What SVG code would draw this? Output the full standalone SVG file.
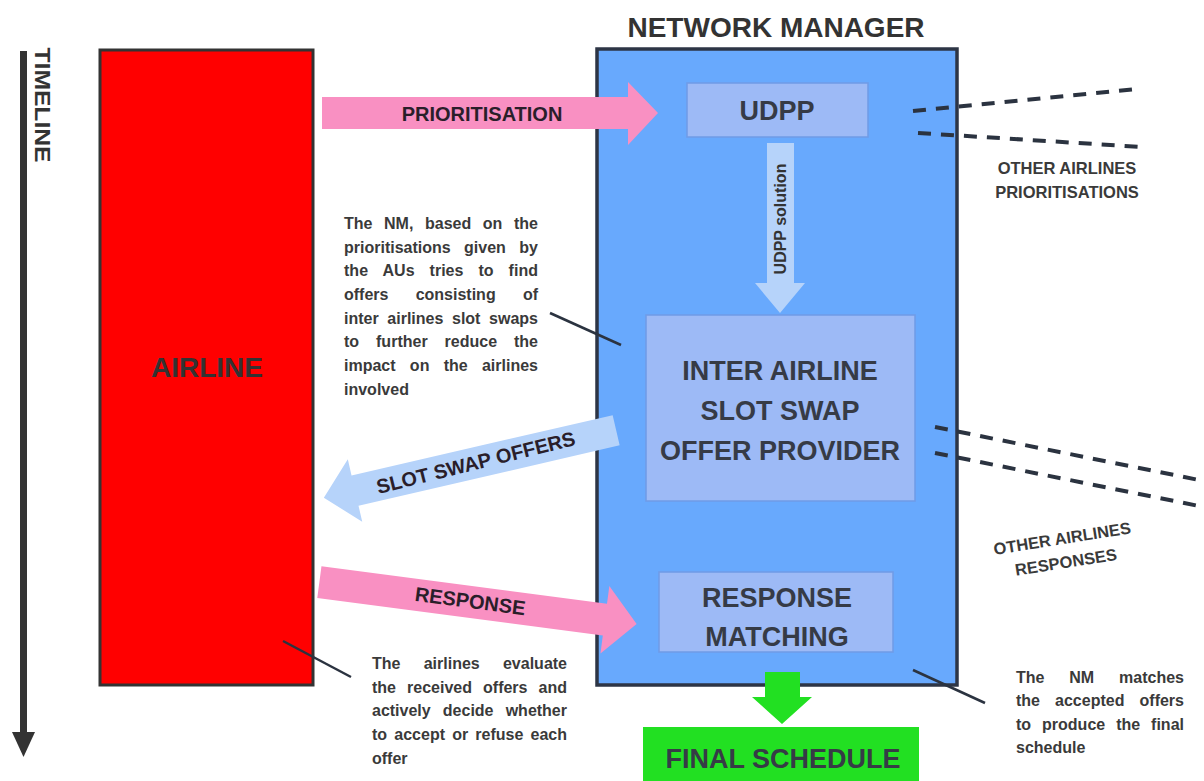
<svg xmlns="http://www.w3.org/2000/svg" width="1204" height="781" viewBox="0 0 1204 781">
  <defs>
    <style>
      text { font-family: "Liberation Sans", Arial, sans-serif; font-weight: bold; fill: #333333; }
      .big { font-size: 27px; text-anchor: middle; fill: #363b46; }
      .lbl { font-size: 20px; text-anchor: middle; fill: #2a1e2a; }
      .note { font-size: 16px; fill: #3a3a3a; }
      .other { font-size: 16.5px; text-anchor: middle; fill: #3a3a3a; }
      .inner { fill: #9dbaf6; stroke: #6f9be6; stroke-width: 1.5; }
      .dash { stroke: #2b3340; stroke-width: 4; stroke-dasharray: 13 10; fill: none; }
      .leader { stroke: #2b3340; stroke-width: 2.5; fill: none; }
      .pink { fill: #f990c2; }
      .lblue { fill: #b6d3fa; }
      .green { fill: #22e022; }
    </style>
  </defs>

  <rect x="0" y="0" width="1204" height="781" fill="#ffffff"/>

  <!-- Timeline -->
  <g id="timeline">
    <rect x="20" y="51" width="7" height="684" fill="#333333"/>
    <polygon points="12,732 35,732 23.5,757" fill="#333333"/>
    <text transform="translate(35,105) rotate(90)" font-size="22" text-anchor="middle" textLength="115" lengthAdjust="spacingAndGlyphs" fill="#333333">TIMELINE</text>
  </g>

  <!-- Airline -->
  <g id="airline">
    <rect x="100" y="50" width="213" height="635" fill="#ff0000" stroke="#333333" stroke-width="3"/>
    <text x="207" y="377" font-size="28" text-anchor="middle" fill="#5e1f1f">AIRLINE</text>
  </g>

  <!-- Network manager -->
  <g id="network-manager">
    <text x="776" y="37" font-size="28" text-anchor="middle" fill="#333333">NETWORK MANAGER</text>
    <rect x="597" y="49" width="360" height="636" fill="#68a9fd" stroke="#2d3545" stroke-width="3.5"/>
  </g>

  <g id="udpp">
    <rect class="inner" x="687" y="83" width="181" height="54"/>
    <text class="big" x="777" y="120" font-size="28">UDPP</text>
  </g>

  <g id="inter-airline">
    <rect class="inner" x="646" y="315" width="269" height="186"/>
    <text class="big" x="780" y="380">INTER AIRLINE</text>
    <text class="big" x="780" y="420">SLOT SWAP</text>
    <text class="big" x="780" y="460">OFFER PROVIDER</text>
  </g>

  <g id="response-matching">
    <rect class="inner" x="659" y="572" width="234" height="80"/>
    <text class="big" x="777" y="607">RESPONSE</text>
    <text class="big" x="777" y="646">MATCHING</text>
  </g>

  <g id="final-schedule">
    <rect class="green" x="643" y="727" width="276" height="60"/>
    <text class="big" x="783" y="768">FINAL SCHEDULE</text>
  </g>

  <!-- Connectors -->
  <g id="connectors">
    <!-- Prioritisation arrow -->
    <polygon class="pink" points="322,97 628,97 628,82 658,113 628,145 628,129 322,129"/>
    <text class="lbl" x="482" y="121" font-size="21">PRIORITISATION</text>

    <!-- UDPP solution arrow -->
    <polygon class="lblue" points="767,143 794,143 794,283 805,283 780,313 755,283 767,283"/>
    <text transform="translate(786,219) rotate(-90)" font-size="16" text-anchor="middle" fill="#333333">UDPP solution</text>

    <!-- Slot swap offers arrow -->
    <g transform="translate(470,464) rotate(-13)">
      <polygon class="lblue" points="150,-15.5 -118,-15.5 -118,-32 -150,0 -118,32 -118,15.5 150,15.5"/>
      <text class="lbl" x="6" y="7" transform="rotate(-1)">SLOT SWAP OFFERS</text>
    </g>

    <!-- Response arrow -->
    <g transform="translate(478,603) rotate(7.5)">
      <polygon class="pink" points="-160,-16 128,-16 128,-34 160,0 128,34 128,16 -160,16"/>
      <text class="lbl" x="-8" y="6">RESPONSE</text>
    </g>

    <!-- Final schedule arrow -->
    <polygon class="green" points="765,672 800,672 800,697 812,697 782,724 752,697 765,697"/>

    <!-- Dashed lines: other airlines prioritisations -->
    <line class="dash" x1="913" y1="111" x2="1138" y2="89"/>
    <line class="dash" x1="918" y1="133" x2="1142" y2="147"/>

    <!-- Dashed lines: other airlines responses -->
    <line class="dash" x1="935" y1="427" x2="1204" y2="481"/>
    <line class="dash" x1="935" y1="453" x2="1204" y2="507"/>

    <!-- Leaders -->
    <line class="leader" x1="550" y1="313" x2="621" y2="345"/>
    <line class="leader" x1="283" y1="641" x2="351" y2="677"/>
    <line class="leader" x1="913" y1="670" x2="985" y2="703"/>
  </g>

  <!-- Other airlines labels -->
  <g id="other-prioritisations">
    <text class="other" x="1067" y="174">OTHER AIRLINES</text>
    <text class="other" x="1067" y="198">PRIORITISATIONS</text>
  </g>
  <g id="other-responses" transform="translate(1064,550) rotate(-9)">
    <text class="other" x="0" y="-6">OTHER AIRLINES</text>
    <text class="other" x="0" y="18">RESPONSES</text>
  </g>

  <!-- Notes -->
  <g id="note-nm">
    <text class="note" x="344" y="229" word-spacing="7.2" textLength="194" lengthAdjust="spacing">The NM, based on the</text>
    <text class="note" x="344" y="253" word-spacing="9" textLength="194" lengthAdjust="spacing">prioritisations given by</text>
    <text class="note" x="344" y="276" word-spacing="10.5" textLength="194" lengthAdjust="spacing">the AUs tries to find</text>
    <text class="note" x="344" y="300" word-spacing="22.8" textLength="194" lengthAdjust="spacing">offers consisting of</text>
    <text class="note" x="344" y="324" word-spacing="4.2" textLength="194" lengthAdjust="spacing">inter airlines slot swaps</text>
    <text class="note" x="344" y="347" word-spacing="12.5" textLength="194" lengthAdjust="spacing">to further reduce the</text>
    <text class="note" x="344" y="371" word-spacing="9.8" textLength="194" lengthAdjust="spacing">impact on the airlines</text>
    <text class="note" x="344" y="395">involved</text>
  </g>

  <g id="note-airlines">
    <text class="note" x="372" y="669" word-spacing="18.8" textLength="195" lengthAdjust="spacing">The airlines evaluate</text>
    <text class="note" x="372" y="693" word-spacing="6.6" textLength="195" lengthAdjust="spacing">the received offers and</text>
    <text class="note" x="372" y="716" word-spacing="7.7" textLength="195" lengthAdjust="spacing">actively decide whether</text>
    <text class="note" x="372" y="740" word-spacing="2.7" textLength="195" lengthAdjust="spacing">to accept or refuse each</text>
    <text class="note" x="372" y="764">offer</text>
  </g>

  <g id="note-matching">
    <text class="note" x="1016" y="683" word-spacing="20.4" textLength="168" lengthAdjust="spacing">The NM matches</text>
    <text class="note" x="1016" y="706" word-spacing="10.6" textLength="168" lengthAdjust="spacing">the accepted offers</text>
    <text class="note" x="1016" y="730" word-spacing="6.5" textLength="168" lengthAdjust="spacing">to produce the final</text>
    <text class="note" x="1016" y="753">schedule</text>
  </g>
</svg>
